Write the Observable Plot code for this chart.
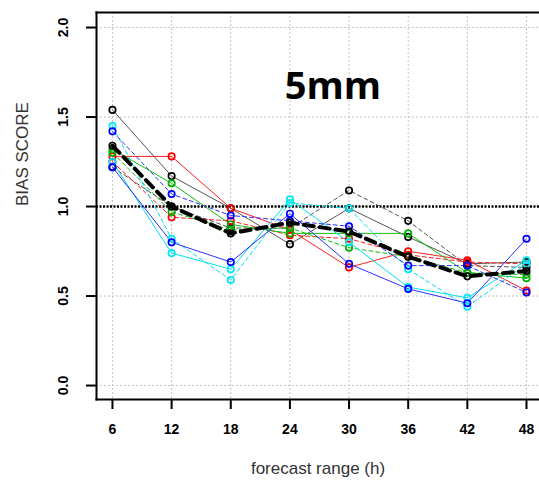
<!DOCTYPE html>
<html>
<head>
<meta charset="utf-8">
<script src="https://cdn.jsdelivr.net/npm/d3@7"></script>
<script src="https://cdn.jsdelivr.net/npm/@observablehq/plot@0.6"></script>
<style>
  html, body { margin: 0; padding: 0; background: #fff; }
  #chart { position: relative; width: 539px; height: 484px; }
</style>
</head>
<body>
<div id="chart"></div>
<script>
const hours = [6, 12, 18, 24, 30, 36, 42, 48];
const yTicks = [0, 0.5, 1, 1.5, 2];
const title = "5mm";
const xLabel = "forecast range (h)";
const yLabel = "BIAS SCORE";

const blackSolid  = [1.54, 1.17, 0.99, 0.79, 0.99, 0.83, 0.68, 0.69];
const blackDashed = [1.22, 1.00, 0.88, 0.88, 1.09, 0.92, 0.67, 0.66];
const redSolid    = [1.28, 1.28, 0.99, 0.87, 0.66, 0.75, 0.70, 0.53];
const redDashed   = [1.25, 0.94, 0.92, 0.84, 0.82, 0.73, 0.69, 0.68];
const blueSolid   = [1.22, 0.80, 0.69, 0.96, 0.68, 0.54, 0.46, 0.82];
const blueDashed  = [1.42, 1.07, 0.95, 0.92, 0.89, 0.67, 0.67, 0.52];
const cyanSolid   = [1.25, 0.74, 0.65, 1.04, 0.80, 0.55, 0.49, 0.70];
const cyanDashed  = [1.45, 0.82, 0.59, 1.02, 0.99, 0.65, 0.44, 0.68];
const greenSolid  = [1.32, 1.13, 0.90, 0.85, 0.85, 0.85, 0.63, 0.60];
const greenDashed = [1.30, 0.97, 0.87, 0.88, 0.77, 0.72, 0.63, 0.62];
const meanScore   = [1.34, 1.00, 0.85, 0.91, 0.86, 0.72, 0.61, 0.64];

const series = [
  {name: "blackSolid", values: blackSolid, line: "#555", marker: "#000", dash: null},
  {name: "blackDashed", values: blackDashed, line: "#555", marker: "#000", dash: "4,3"},
  {name: "redSolid", values: redSolid, line: "#ff2020", marker: "#ff0000", dash: null},
  {name: "redDashed", values: redDashed, line: "#ff2020", marker: "#ff0000", dash: "4,3"},
  {name: "greenSolid", values: greenSolid, line: "#10c010", marker: "#00b000", dash: null},
  {name: "greenDashed", values: greenDashed, line: "#10c010", marker: "#00b000", dash: "4,3"},
  {name: "cyanSolid", values: cyanSolid, line: "#00e0f0", marker: "#00e8f8", dash: null},
  {name: "cyanDashed", values: cyanDashed, line: "#00e0f0", marker: "#00e8f8", dash: "4,3"},
  {name: "blueSolid", values: blueSolid, line: "#3030ff", marker: "#0000ff", dash: null},
  {name: "blueDashed", values: blueDashed, line: "#3030ff", marker: "#0000ff", dash: "4,3"}
];

const rows = s => hours.map((h, i) => ({h, v: s.values[i]}));
const meanRows = hours.map((h, i) => ({h, v: meanScore[i]}));

const marks = [
  Plot.gridX(hours, {stroke: "#c4c4c4", strokeOpacity: 1, strokeWidth: 1, strokeDasharray: "2,2"}),
  Plot.gridY(yTicks, {stroke: "#c4c4c4", strokeOpacity: 1, strokeWidth: 1, strokeDasharray: "2,2"}),
  Plot.ruleY([1], {stroke: "#000", strokeWidth: 2.5, strokeDasharray: "2,1.5"})
];
for (const s of series) {
  marks.push(Plot.line(rows(s), {x: "h", y: "v", stroke: s.line, strokeWidth: 1, strokeDasharray: s.dash}));
}
for (const s of series) {
  marks.push(Plot.dot(rows(s), {x: "h", y: "v", r: 3.2, stroke: s.marker, strokeWidth: 1.7, fill: "none"}));
}
marks.push(Plot.line(meanRows, {x: "h", y: "v", stroke: "#000", strokeWidth: 4, strokeDasharray: "10,6"}));
marks.push(Plot.dot(meanRows, {x: "h", y: "v", r: 3.2, stroke: "#000", strokeWidth: 1.7, fill: "none"}));

marks.push(Plot.axisX(hours, {
  tickSize: 10, tickPadding: 15, tickFormat: d => String(d),
  fontSize: 14, fontWeight: "bold", stroke: "#000", strokeWidth: 2,
  label: null
}));
marks.push(Plot.axisY(yTicks, {
  tickSize: 10, tickPadding: 19, tickFormat: d3.format(".1f"), tickRotate: -90,
  fontSize: 14, fontWeight: "bold", stroke: "#000", strokeWidth: 2,
  label: null
}));
marks.push(Plot.frame({anchor: "left", stroke: "#000", strokeWidth: 2}));
marks.push(Plot.frame({anchor: "top", stroke: "#000", strokeWidth: 2}));
marks.push(Plot.frame({anchor: "bottom", stroke: "#000", strokeWidth: 2}));
marks.push(Plot.text([title], {frameAnchor: "top", dx: 15, dy: 74, lineAnchor: "middle",
  fontSize: 38, fontWeight: "bold", fill: "#000", fontFamily: "Open Sans, sans-serif"}));
marks.push(Plot.text([xLabel], {frameAnchor: "bottom", dy: 69, lineAnchor: "middle",
  fontSize: 17, fill: "#333"}));
marks.push(Plot.text([yLabel], {frameAnchor: "left", dx: -74, rotate: -90, lineAnchor: "middle",
  fontSize: 17, fill: "#333"}));

const chart = Plot.plot({
  width: 539,
  height: 484,
  marginLeft: 96,
  marginRight: 0,
  marginTop: 12,
  marginBottom: 85,
  style: {fontFamily: "Liberation Sans, Arial, sans-serif", background: "#fff", overflow: "visible"},
  x: {domain: [4.38, 49.32]},
  y: {domain: [-0.078, 2.084]},
  marks
});
document.getElementById("chart").appendChild(chart);
</script>
</body>
</html>
